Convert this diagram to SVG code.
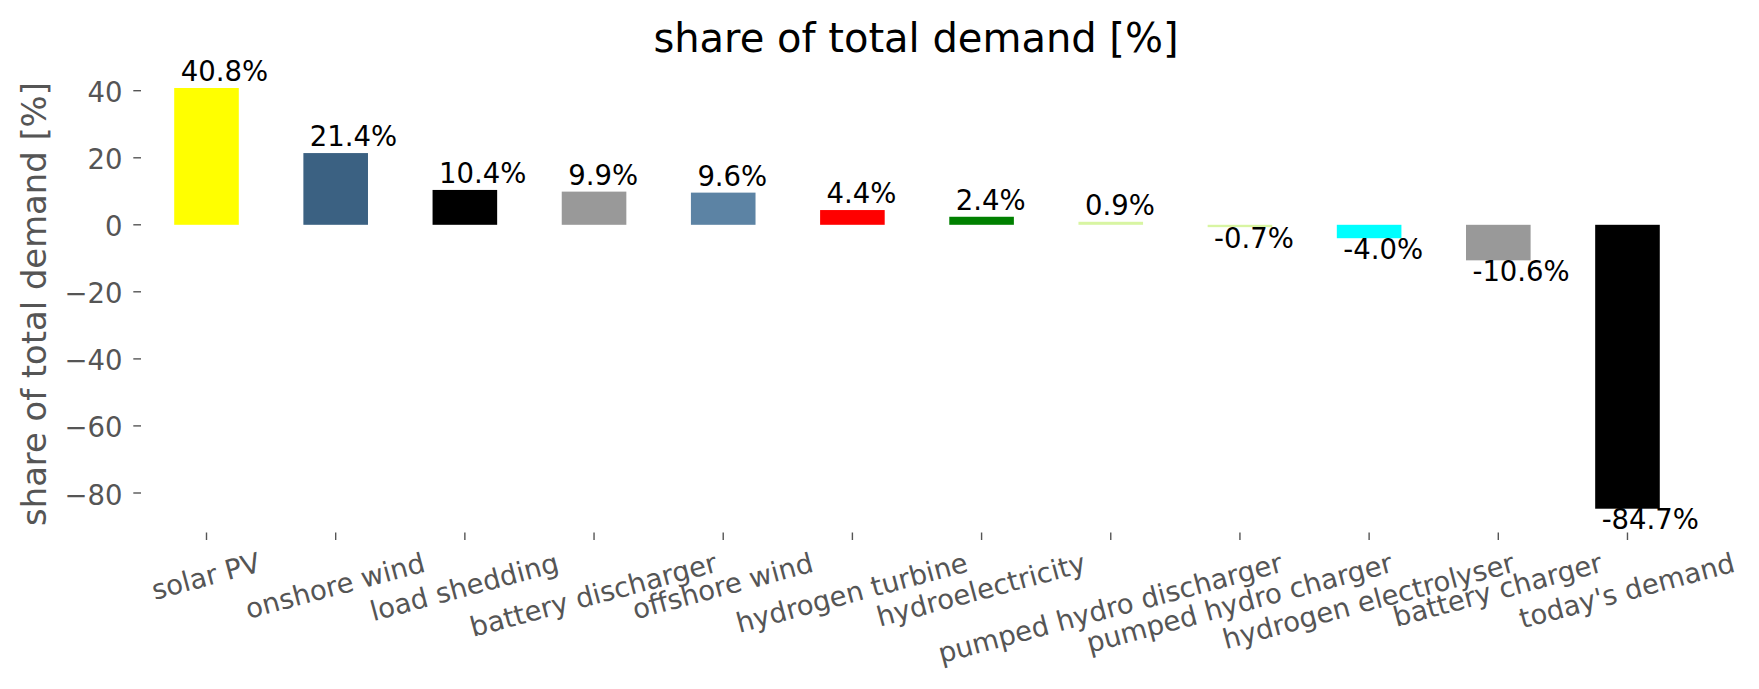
<svg xmlns="http://www.w3.org/2000/svg" width="1759" height="689" viewBox="0 0 1759 689">
<style>
text{font-family:"DejaVu Sans","Liberation Sans",sans-serif;}
.tl{font-size:27.5px;fill:#555555;}
.yt{text-anchor:end;}
.xt{text-anchor:middle;}
.vl{font-size:27.5px;fill:#000000;}
.tk{stroke:#555555;stroke-width:1.4;}
</style>
<rect x="0" y="0" width="1759" height="689" fill="#ffffff"/>
<text id="title" x="916" y="51.7" text-anchor="middle" font-size="40" fill="#000000">share of total demand [%]</text>
<text id="ylabel" transform="translate(46,304) rotate(-90)" text-anchor="middle" font-size="33.8" fill="#555555">share of total demand [%]</text>
<g id="yaxis">
<g class="tk">
<line x1="133.3" y1="90.7" x2="141" y2="90.7"/>
<line x1="133.3" y1="157.8" x2="141" y2="157.8"/>
<line x1="133.3" y1="224.8" x2="141" y2="224.8"/>
<line x1="133.3" y1="291.8" x2="141" y2="291.8"/>
<line x1="133.3" y1="358.9" x2="141" y2="358.9"/>
<line x1="133.3" y1="425.9" x2="141" y2="425.9"/>
<line x1="133.3" y1="493" x2="141" y2="493"/>
</g>
<text class="tl yt" x="122.5" y="102.2">40</text>
<text class="tl yt" x="122.5" y="169.3">20</text>
<text class="tl yt" x="122.5" y="236.3">0</text>
<text class="tl yt" x="122.5" y="303.3">−20</text>
<text class="tl yt" x="122.5" y="370.4">−40</text>
<text class="tl yt" x="122.5" y="437.4">−60</text>
<text class="tl yt" x="122.5" y="504.5">−80</text>
</g>
<g id="xaxis">
<g class="tk">
<line x1="206.5" y1="532.5" x2="206.5" y2="540"/>
<line x1="335.68" y1="532.5" x2="335.68" y2="540"/>
<line x1="464.86" y1="532.5" x2="464.86" y2="540"/>
<line x1="594.04" y1="532.5" x2="594.04" y2="540"/>
<line x1="723.22" y1="532.5" x2="723.22" y2="540"/>
<line x1="852.4" y1="532.5" x2="852.4" y2="540"/>
<line x1="981.58" y1="532.5" x2="981.58" y2="540"/>
<line x1="1110.76" y1="532.5" x2="1110.76" y2="540"/>
<line x1="1239.94" y1="532.5" x2="1239.94" y2="540"/>
<line x1="1369.12" y1="532.5" x2="1369.12" y2="540"/>
<line x1="1498.3" y1="532.5" x2="1498.3" y2="540"/>
<line x1="1627.48" y1="532.5" x2="1627.48" y2="540"/>
</g>
<text class="tl xt" transform="translate(206.5,578.6) rotate(-15)" y="7.2">solar PV</text>
<text class="tl xt" transform="translate(335.68,588.15) rotate(-15)" y="7.2">onshore wind</text>
<text class="tl xt" transform="translate(464.86,589.3) rotate(-15)" y="7.2">load shedding</text>
<text class="tl xt" transform="translate(594.04,597.2) rotate(-15)" y="7.2">battery discharger</text>
<text class="tl xt" transform="translate(723.22,588.4) rotate(-15)" y="7.2">offshore wind</text>
<text class="tl xt" transform="translate(852.4,595.1) rotate(-15)" y="7.2">hydrogen turbine</text>
<text class="tl xt" transform="translate(981.58,592.1) rotate(-15)" y="7.2">hydroelectricity</text>
<text class="tl xt" transform="translate(1110.76,610.3) rotate(-15)" y="7.2">pumped hydro discharger</text>
<text class="tl xt" transform="translate(1239.94,605.2) rotate(-15)" y="7.2">pumped hydro charger</text>
<text class="tl xt" transform="translate(1369.12,603.3) rotate(-15)" y="7.2">hydrogen electrolyser</text>
<text class="tl xt" transform="translate(1498.3,592.1) rotate(-15)" y="7.2">battery charger</text>
<text class="tl xt" transform="translate(1627.48,592.9) rotate(-15)" y="7.2">today's demand</text>
</g>
<g id="bar-solar-pv"><rect x="174.2" y="88" width="64.6" height="136.8" fill="#ffff00"/><text class="vl" x="180.66" y="81">40.8%</text></g>
<g id="bar-onshore-wind"><rect x="303.38" y="153.07" width="64.6" height="71.73" fill="#3b6182"/><text class="vl" x="309.84" y="146.07">21.4%</text></g>
<g id="bar-load-shedding"><rect x="432.56" y="189.94" width="64.6" height="34.86" fill="#000000"/><text class="vl" x="439.02" y="182.94">10.4%</text></g>
<g id="bar-battery-discharger"><rect x="561.74" y="191.62" width="64.6" height="33.18" fill="#999999"/><text class="vl" x="568.2" y="184.62">9.9%</text></g>
<g id="bar-offshore-wind"><rect x="690.92" y="192.62" width="64.6" height="32.18" fill="#5c83a4"/><text class="vl" x="697.38" y="185.62">9.6%</text></g>
<g id="bar-hydrogen-turbine"><rect x="820.1" y="210.05" width="64.6" height="14.75" fill="#ff0000"/><text class="vl" x="826.56" y="203.05">4.4%</text></g>
<g id="bar-hydroelectricity"><rect x="949.28" y="216.76" width="64.6" height="8.04" fill="#008000"/><text class="vl" x="955.74" y="209.76">2.4%</text></g>
<g id="bar-pumped-hydro-discharger"><rect x="1078.46" y="221.78" width="64.6" height="3.02" fill="#d8f5a2"/><text class="vl" x="1084.92" y="214.78">0.9%</text></g>
<g id="bar-pumped-hydro-charger"><rect x="1207.64" y="224.8" width="64.6" height="2.35" fill="#d8f5a2"/><text class="vl" x="1214.1" y="247.75">-0.7%</text></g>
<g id="bar-hydrogen-electrolyser"><rect x="1336.82" y="224.8" width="64.6" height="13.41" fill="#00ffff"/><text class="vl" x="1343.28" y="258.81">-4.0%</text></g>
<g id="bar-battery-charger"><rect x="1466" y="224.8" width="64.6" height="35.53" fill="#999999"/><text class="vl" x="1472.46" y="280.93">-10.6%</text></g>
<g id="bar-todays-demand"><rect x="1595.18" y="224.8" width="64.6" height="283.91" fill="#000000"/><text class="vl" x="1601.64" y="529.31">-84.7%</text></g>
<g id="connectors"></g>
</svg>
